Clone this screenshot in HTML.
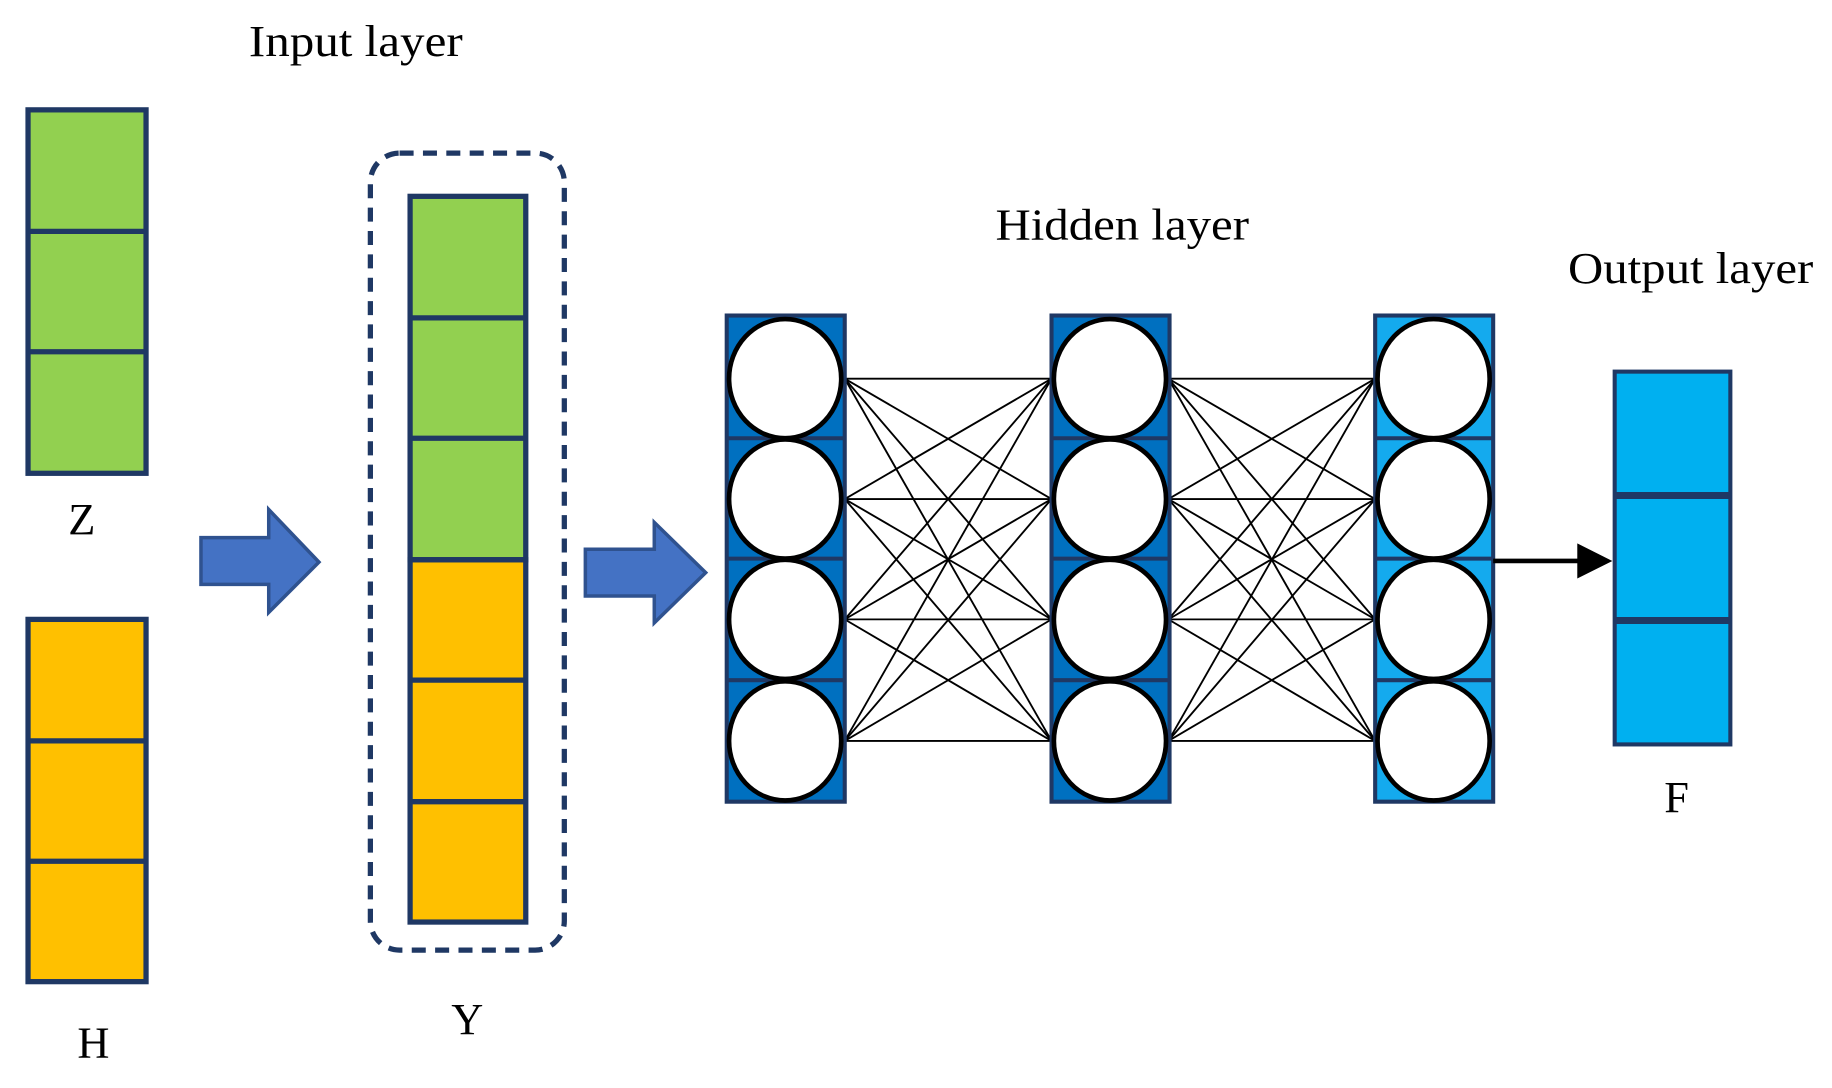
<!DOCTYPE html>
<html><head><meta charset="utf-8"><style>html,body{margin:0;padding:0;background:#fff}svg{display:block}</style></head>
<body>
<svg width="1832" height="1088" viewBox="0 0 1568 931" preserveAspectRatio="none" xmlns="http://www.w3.org/2000/svg" font-family="Liberation Serif, serif" font-size="38" fill="#000">
<g stroke="#1f3864" stroke-width="4.5">
<rect x="24" y="94" width="101" height="311" fill="#92d050"/>
<line x1="24" y1="198" x2="125" y2="198"/><line x1="24" y1="301" x2="125" y2="301"/>
<rect x="24" y="530" width="101" height="310" fill="#ffc000"/>
<line x1="24" y1="634" x2="125" y2="634"/><line x1="24" y1="737" x2="125" y2="737"/>
<rect x="351" y="168" width="99" height="311" fill="#92d050"/>
<rect x="351" y="479" width="99" height="310" fill="#ffc000"/>
<line x1="351" y1="272" x2="450" y2="272"/><line x1="351" y1="375" x2="450" y2="375"/><line x1="351" y1="479" x2="450" y2="479"/><line x1="351" y1="582" x2="450" y2="582"/><line x1="351" y1="686" x2="450" y2="686"/>
<rect x="317" y="131" width="166" height="682" rx="25" fill="none" stroke-dasharray="12,8"/>
</g>
<g fill="#4472c4" stroke="#2f528f" stroke-width="3">
<polygon points="172,460 230,460 230,436 273,481 230,524 230,500 172,500"/>
<polygon points="501,470 560,470 560,447 604,490 560,533 560,510 501,510"/>
</g>
<text x="213" y="48" textLength="183" lengthAdjust="spacingAndGlyphs">Input layer</text>
<text x="70" y="457" text-anchor="middle">Z</text>
<text x="80" y="905" text-anchor="middle">H</text>
<text x="400" y="885" text-anchor="middle">Y</text>
<text x="852" y="205" textLength="217" lengthAdjust="spacingAndGlyphs">Hidden layer</text>
<text x="1342" y="242" textLength="210" lengthAdjust="spacingAndGlyphs">Output layer</text>
<text x="1435" y="695" text-anchor="middle">F</text>
<g stroke="#000" stroke-width="1.6">
<g id="c">
<line x1="723" y1="324" x2="900" y2="324"/><line x1="723" y1="324" x2="900" y2="427"/><line x1="723" y1="324" x2="900" y2="530"/><line x1="723" y1="324" x2="900" y2="634"/>
<line x1="723" y1="427" x2="900" y2="324"/><line x1="723" y1="427" x2="900" y2="427"/><line x1="723" y1="427" x2="900" y2="530"/><line x1="723" y1="427" x2="900" y2="634"/>
<line x1="723" y1="530" x2="900" y2="324"/><line x1="723" y1="530" x2="900" y2="427"/><line x1="723" y1="530" x2="900" y2="530"/><line x1="723" y1="530" x2="900" y2="634"/>
<line x1="723" y1="634" x2="900" y2="324"/><line x1="723" y1="634" x2="900" y2="427"/><line x1="723" y1="634" x2="900" y2="530"/><line x1="723" y1="634" x2="900" y2="634"/>
</g>
<use href="#c" transform="translate(277,0)"/>
</g>
<g stroke="#1f3864" stroke-width="3.5">
<rect x="622" y="270" width="101" height="416" fill="#0070c0"/>
<line x1="622" y1="375" x2="723" y2="375"/><line x1="622" y1="478" x2="723" y2="478"/><line x1="622" y1="582" x2="723" y2="582"/>
<rect x="900" y="270" width="101" height="416" fill="#0070c0"/>
<line x1="900" y1="375" x2="1001" y2="375"/><line x1="900" y1="478" x2="1001" y2="478"/><line x1="900" y1="582" x2="1001" y2="582"/>
<rect x="1177" y="270" width="101" height="416" fill="#14aaee"/>
<line x1="1177" y1="375" x2="1278" y2="375"/><line x1="1177" y1="478" x2="1278" y2="478"/><line x1="1177" y1="582" x2="1278" y2="582"/>
<rect x="1382" y="318" width="99" height="319" fill="#00b0f0"/>
<line x1="1382" y1="424" x2="1481" y2="424" stroke-width="6"/><line x1="1382" y1="531" x2="1481" y2="531" stroke-width="6"/>
</g>
<g fill="#fff" stroke="#000" stroke-width="4">
<ellipse cx="672" cy="324" rx="48" ry="51"/><ellipse cx="672" cy="427" rx="48" ry="51"/><ellipse cx="672" cy="530" rx="48" ry="51"/><ellipse cx="672" cy="634" rx="48" ry="51"/>
<ellipse cx="950" cy="324" rx="48" ry="51"/><ellipse cx="950" cy="427" rx="48" ry="51"/><ellipse cx="950" cy="530" rx="48" ry="51"/><ellipse cx="950" cy="634" rx="48" ry="51"/>
<ellipse cx="1227" cy="324" rx="48" ry="51"/><ellipse cx="1227" cy="427" rx="48" ry="51"/><ellipse cx="1227" cy="530" rx="48" ry="51"/><ellipse cx="1227" cy="634" rx="48" ry="51"/>
</g>
<line x1="1278" y1="480" x2="1352" y2="480" stroke="#000" stroke-width="4"/>
<polygon points="1350,465 1380,480 1350,495" fill="#000"/>
</svg>
</body></html>
